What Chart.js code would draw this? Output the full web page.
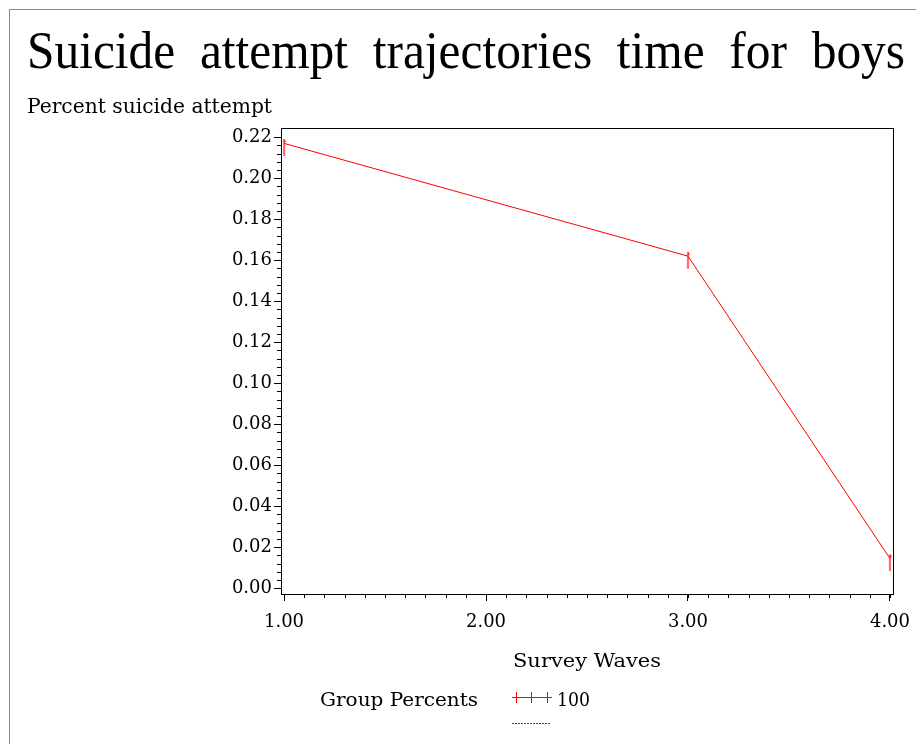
<!DOCTYPE html>
<html>
<head>
<meta charset="utf-8">
<script src="https://cdn.jsdelivr.net/npm/chart.js@4.4.0/dist/chart.umd.min.js"></script>
<style>
  html, body { margin: 0; padding: 0; background: #fff; }
  #wrap { width: 916px; height: 744px; }
</style>
</head>
<body>
<div id="wrap"><canvas id="trajChart" width="916" height="744"></canvas></div>
<script>
// chart values
const waves = [1, 3, 4];
const pctAttempt = [0.217, 0.162, 0.0145];
const xTickValues = [1, 2, 3, 4];
const yTickValues = [0, 0.02, 0.04, 0.06, 0.08, 0.10, 0.12, 0.14, 0.16, 0.18, 0.20, 0.22];
const groupLabels = ['100'];

const SERIF = '"DejaVu Serif", "Liberation Serif", serif';
const TITLE_FONT = '"Liberation Serif", "DejaVu Serif", serif';
const RED = '#ff0000';

// draw text at a given size, squeezed/stretched horizontally to a given width
function fitText(ctx, text, x, y, width, size) {
    ctx.font = size + 'px ' + SERIF;
    const w = ctx.measureText(text).width;
    ctx.save();
    ctx.translate(x, y);
    ctx.scale(width / w, 1);
    ctx.fillText(text, 0, 0);
    ctx.restore();
}

// words slightly condensed, gaps spread so the line spans [x0, x1]
function spreadText(ctx, text, x0, x1, y, font, squeeze) {
    ctx.font = font;
    const words = text.split(' ');
    const widths = words.map(w => ctx.measureText(w).width * squeeze);
    const total = widths.reduce((s, w) => s + w, 0);
    const gap = (x1 - x0 - total) / (words.length - 1);
    let x = x0;
    words.forEach((w, i) => {
        ctx.save();
        ctx.translate(x, y);
        ctx.scale(squeeze, 1);
        ctx.fillText(w, 0, 0);
        ctx.restore();
        x += widths[i] + gap;
    });
}

// point marker: vertical stroke hanging mostly below the point
function makeMarker() {
    const m = document.createElement('canvas');
    m.width = 5; m.height = 27;
    const c = m.getContext('2d');
    c.strokeStyle = RED;
    c.lineWidth = 1.3;
    c.beginPath();
    c.moveTo(2.5, 9); c.lineTo(2.5, 26);
    c.moveTo(2.5, 10); c.lineTo(3.8, 12);
    c.stroke();
    return m;
}
const marker = makeMarker();

const decorPlugin = {
    id: 'decor',
    beforeDraw(chart) {
        const c = chart.ctx;
        c.save();
        c.fillStyle = '#fff';
        c.fillRect(0, 0, chart.width, chart.height);
        c.strokeStyle = '#888';
        c.lineWidth = 1;
        c.strokeRect(9.5, 9.5, 920, 760);
        c.restore();
    },
    afterDraw(chart) {
        const c = chart.ctx;
        const a = chart.chartArea;
        const xs = chart.scales.x, ys = chart.scales.y;
        c.save();
        // frame of plot area
        c.strokeStyle = '#000';
        c.lineWidth = 1;
        c.strokeRect(Math.round(a.left) + 0.5, Math.round(a.top) + 0.5,
            Math.round(a.right - a.left), Math.round(a.bottom - a.top));
        // minor ticks
        c.beginPath();
        for (let v = 1; v <= 4.0001; v += 0.1) {
            const px = Math.round(xs.getPixelForValue(v)) + 0.5;
            c.moveTo(px, a.bottom);
            c.lineTo(px, a.bottom + 4);
        }
        for (let v = 0; v <= 0.2201; v += 0.004) {
            const py = Math.round(ys.getPixelForValue(v)) + 0.5;
            c.moveTo(a.left, py);
            c.lineTo(a.left - 4, py);
        }
        c.stroke();

        c.fillStyle = '#000';
        c.textBaseline = 'alphabetic';
        c.textAlign = 'left';
        spreadText(c, 'Suicide attempt trajectories time for boys', 27, 905, 68, '52px ' + TITLE_FONT, 0.95);
        fitText(c, 'Percent suicide attempt', 27, 113, 245, 20);
        fitText(c, 'Survey Waves', 513, 667, 148, 19);
        fitText(c, 'Group Percents', 320, 706, 158, 19);
        fitText(c, groupLabels[0], 557, 706, 33, 18);

        // legend samples
        c.fillStyle = RED;
        c.fillRect(512, 697, 40, 1);
        [516, 531, 547].forEach(px => c.fillRect(px, 692, 1, 11));
        for (let px = 512; px < 551; px += 3) c.fillRect(px, 723, 2, 1);
        c.restore();
    }
};

const ctx = document.getElementById('trajChart').getContext('2d');
new Chart(ctx, {
    type: 'line',
    data: {
        datasets: [{
            label: groupLabels[0],
            data: waves.map((w, i) => ({ x: w, y: pctAttempt[i] })),
            borderColor: RED,
            backgroundColor: RED,
            borderWidth: 1,
            pointStyle: marker,
            tension: 0
        }]
    },
    options: {
        responsive: false,
        devicePixelRatio: 1,
        animation: false,
        layout: { padding: { top: 128, right: 23, left: 0, bottom: 0 } },
        plugins: {
            legend: { display: false },
            tooltip: { enabled: false }
        },
        scales: {
            x: {
                type: 'linear',
                min: 0.985,
                max: 4.015,
                afterBuildTicks: s => { s.ticks = xTickValues.map(v => ({ value: v })); },
                afterFit: s => { s.height = 150; s.paddingLeft = 0; s.paddingRight = 0; },
                ticks: {
                    callback: v => v.toFixed(2),
                    color: '#000',
                    font: { family: SERIF, size: 18 },
                    padding: 11,
                    maxRotation: 0,
                    autoSkip: false
                },
                grid: { drawOnChartArea: false, tickLength: 7, color: '#000' },
                border: { display: true, color: '#000' }
            },
            y: {
                type: 'linear',
                min: -0.0028,
                max: 0.2245,
                afterBuildTicks: s => { s.ticks = yTickValues.map(v => ({ value: v })); },
                afterFit: s => { s.width = 281; s.paddingTop = 0; s.paddingBottom = 0; },
                ticks: {
                    callback: v => v.toFixed(2),
                    color: '#000',
                    font: { family: SERIF, size: 18 },
                    padding: 2,
                    autoSkip: false
                },
                grid: { drawOnChartArea: false, tickLength: 7, color: '#000' },
                border: { display: true, color: '#000' }
            }
        }
    },
    plugins: [decorPlugin]
});
</script>
</body>
</html>
